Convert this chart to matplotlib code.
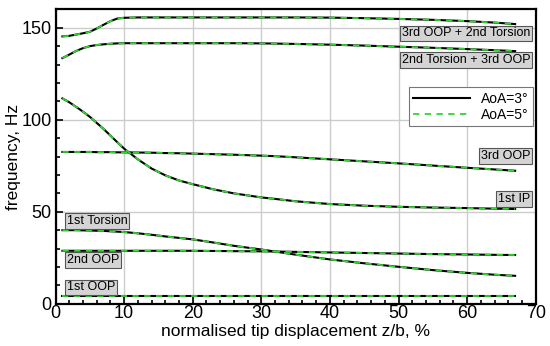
import matplotlib.pyplot as plt
from matplotlib.ticker import MultipleLocator

plt.rcParams['font.family'] = ['Liberation Sans', 'DejaVu Sans']

# tip displacement z/b, %
x = [1, 2, 3, 4, 5, 6, 7, 8, 9, 10, 12, 14, 16, 18, 20, 23, 26, 30, 32, 35,
     40, 45, 50, 55, 60, 64, 67]

# natural frequencies, Hz
oop3_tor2 = [145.3, 145.6, 146.3, 147.0, 147.8, 149.6, 151.6, 153.6, 155.0, 155.4,
             155.6, 155.6, 155.6, 155.6, 155.6, 155.6, 155.6, 155.6, 155.6, 155.6,
             155.5, 155.2, 154.8, 154.3, 153.6, 152.8, 152.0]
tor2_oop3 = [133.5, 135.4, 137.4, 138.9, 140.0, 140.6, 141.0, 141.3, 141.5, 141.6,
             141.6, 141.6, 141.6, 141.6, 141.6, 141.6, 141.6, 141.5, 141.4, 141.2,
             140.8, 140.3, 139.7, 139.1, 138.4, 137.8, 137.3]
ip1 = [111.6, 109.5, 107.0, 104.4, 101.6, 98.3, 95.0, 91.4, 87.8, 84.3,
       78.5, 73.5, 69.8, 67.0, 65.0, 62.2, 60.0, 57.8, 57.0, 55.7,
       54.2, 53.3, 52.7, 52.3, 52.0, 51.7, 51.5]
oop3 = [82.5, 82.5, 82.5, 82.5, 82.5, 82.4, 82.4, 82.4, 82.3, 82.3,
        82.2, 82.1, 81.9, 81.8, 81.6, 81.3, 81.0, 80.5, 80.2, 79.6,
        78.5, 77.4, 76.3, 75.1, 73.9, 73.0, 72.3]
tor1 = [40.0, 40.0, 40.0, 39.9, 39.8, 39.7, 39.6, 39.4, 39.2, 39.0,
        38.3, 37.5, 36.6, 35.8, 35.0, 33.3, 31.5, 29.5, 28.4, 26.7,
        24.1, 22.0, 20.1, 18.3, 16.8, 15.8, 15.2]
oop2 = [28.8, 28.8, 28.8, 28.8, 28.8, 28.8, 28.8, 28.8, 28.8, 28.8,
        28.8, 28.8, 28.8, 28.8, 28.8, 28.7, 28.6, 28.5, 28.4, 28.2,
        27.9, 27.6, 27.3, 27.0, 26.8, 26.6, 26.5]
oop1 = [4.5] * len(x)

modes = [oop3_tor2, tor2_oop3, ip1, oop3, tor1, oop2, oop1]

# labels: (text, x, y, ha)
labels = [('3rd OOP + 2nd Torsion', 69.2, 147.0, 'right'),
          ('2nd Torsion + 3rd OOP', 69.2, 132.4, 'right'),
          ('3rd OOP', 69.2, 80.3, 'right'),
          ('1st IP', 69.2, 56.9, 'right'),
          ('1st Torsion', 1.6, 45.1, 'left'),
          ('2nd OOP', 1.6, 23.7, 'left'),
          ('1st OOP', 1.6, 8.9, 'left')]

green = '#33d633'

fig = plt.figure(figsize=(5.5, 3.46), dpi=100)
ax = fig.add_axes([0.101, 0.122, 0.873, 0.851])

for i, f in enumerate(modes):
    ax.plot(x, f, color='black', lw=1.5, label='AoA=3°' if i == 0 else None, zorder=3)
    ax.plot(x, f, color=green, lw=1.3, dashes=(3.5, 3.0),
            label='AoA=5°' if i == 0 else None, zorder=4)

for txt, lx, ly, ha in labels:
    ax.text(lx, ly, txt, ha=ha, va='center', fontsize=9, zorder=5,
            bbox=dict(boxstyle='square,pad=0.14', facecolor='#d4d4d4',
                      edgecolor='#555555', linewidth=0.8))

ax.set_xlim(0, 70)
ax.set_ylim(0, 160)
ax.xaxis.set_major_locator(MultipleLocator(10))
ax.xaxis.set_minor_locator(MultipleLocator(2))
ax.yaxis.set_major_locator(MultipleLocator(50))
ax.yaxis.set_minor_locator(MultipleLocator(10))
ax.tick_params(which='both', direction='in', top=False, right=False,
               labelsize=13, width=1.2)
ax.tick_params(axis='x', pad=1)
ax.tick_params(axis='y', pad=3)
ax.tick_params(which='major', length=5)
ax.tick_params(which='minor', length=3)
ax.grid(True, which='major', color='#cccccc', lw=1.0, zorder=0)
for s in ax.spines.values():
    s.set_linewidth(1.6)

ax.set_xlabel('normalised tip displacement z/b, %', fontsize=12.5, labelpad=1)
ax.set_ylabel('frequency, Hz', fontsize=12.5, labelpad=0)

leg = ax.legend(loc='upper right', bbox_to_anchor=(0.994, 0.735), fontsize=10,
                fancybox=False, framealpha=1, edgecolor='#777777',
                handlelength=4.1, borderpad=0.3, labelspacing=0.15,
                handletextpad=0.8, borderaxespad=0)
leg.get_frame().set_linewidth(0.8)

fig.savefig('out.png', dpi=100, facecolor='white')
